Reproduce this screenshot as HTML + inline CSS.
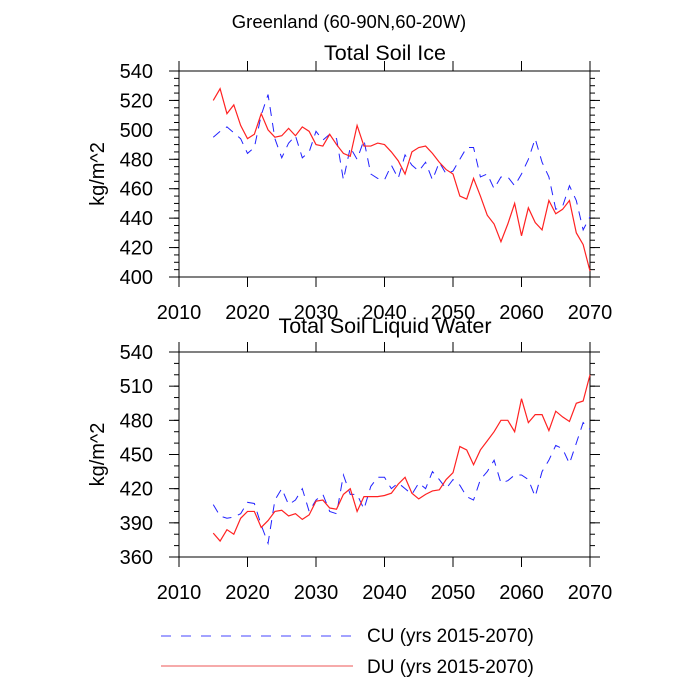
<!DOCTYPE html>
<html><head><meta charset="utf-8"><style>
body{margin:0;background:#fff}
svg{display:block;font-family:"Liberation Sans",sans-serif}
</style></head><body>
<svg id="chart" width="700" height="700" viewBox="0 0 700 700" xmlns="http://www.w3.org/2000/svg">
<text x="349" y="28" font-size="18.5" text-anchor="middle">Greenland (60-90N,60-20W)</text>
<g id="legend">
<line x1="161" y1="636" x2="353" y2="636" stroke="#4444ff" stroke-width="1" stroke-dasharray="10,10"/>
<text x="367" y="642" font-size="19">CU (yrs 2015-2070)</text>
<line x1="161" y1="666" x2="353" y2="666" stroke="#ee5555" stroke-width="1"/>
<text x="367" y="673" font-size="19">DU (yrs 2015-2070)</text>
</g>
</svg>
<script>
const years = [];
for (let y = 2015; y <= 2070; y++) years.push(y);
const iceDU = [520,528,511,517,503,494,497,511,500,495,496,501,496,502,499,490,489,497,490,484,482,503,489,489,491,490,485,479,470,485,488,489,484,478,473,470,455,453,467,455,442,436,424,436,450,428,447,437,432,452,443,446,452,430,422,404];
const iceCU = [495,499,502,498,494,484,488,510,524,494,481,491,496,481,485,499,493,497,494,466,488,480,493,470,467,466,476,467,483,476,472,478,466,478,470,472,480,488,488,468,470,460,468,468,462,470,480,494,478,468,446,448,462,452,432,441];
const liqDU = [381,374,384,380,394,400,400,386,392,400,401,396,398,393,397,409,410,403,402,415,420,400,413,413,413,414,416,424,430,416,411,415,418,419,428,434,457,454,441,454,462,470,480,480,470,499,478,485,485,471,488,483,479,495,497,520];
const liqCU = [406,396,394,395,398,408,407,388,372,410,420,406,410,420,400,410,415,400,398,432,415,415,402,422,430,430,420,425,420,415,425,420,435,428,420,428,423,413,410,428,435,445,425,427,432,432,428,413,435,445,458,455,442,460,478,472];
const xTicks = [2010,2020,2030,2040,2050,2060,2070];
const iceTicks = [400,420,440,460,480,500,520,540];
const liqTicks = [360,390,420,450,480,510,540];

const svg = document.getElementById('chart');
const NS = 'http://www.w3.org/2000/svg';
function mk(tag, attrs, parent) {
  const e = document.createElementNS(NS, tag);
  for (const k in attrs) e.setAttribute(k, attrs[k]);
  (parent || svg).appendChild(e);
  return e;
}
const L = 179, R = 590;
const xs = v => L + (v - 2010) / 60 * (R - L);

function panel(name, title, titleY, top, bot, ymin, ymax, ticks, minorStep, cu, du) {
  const g = mk('g', {});
  
  
  const ys = v => bot - (v - ymin) / (ymax - ymin) * (bot - top);
  const t = mk('text', {x: 385, y: titleY, 'font-size': 21.5, 'text-anchor': 'middle'}, g);
  t.textContent = title;
  
  
  const yt = mk('text', {x: 0, y: 0, 'font-size': 20, 'text-anchor': 'middle', transform: `translate(104,${(top+bot)/2}) rotate(-90)`}, g);
  yt.textContent = 'kg/m^2';
  
  
  for (let v = ymin; v <= ymax; v += minorStep) {
    const y = ys(v);
    mk('line', {x1: L - 5, x2: L, y1: y, y2: y, stroke: '#000'}, g);
    mk('line', {x1: R, x2: R + 5, y1: y, y2: y, stroke: '#000'}, g);
  }
  ticks.forEach(v => {
    const y = ys(v);
    mk('line', {x1: L - 10, x2: L, y1: y, y2: y, stroke: '#000'}, g);
    mk('line', {x1: R, x2: R + 10, y1: y, y2: y, stroke: '#000'}, g);
    const tl = mk('text', {x: L - 26, y: y + 7, 'font-size': 20, 'text-anchor': 'end'}, g);
    tl.textContent = v;
    
    
  });
  xTicks.forEach(v => {
    const x = xs(v);
    mk('line', {x1: x, x2: x, y1: bot, y2: bot + 10, stroke: '#000'}, g);
    mk('line', {x1: x, x2: x, y1: top - 10, y2: top, stroke: '#000'}, g);
    const tl = mk('text', {x: x, y: bot + 42, 'font-size': 20, 'text-anchor': 'middle'}, g);
    tl.textContent = v;
    
    
  });
  mk('rect', {x: L, y: top, width: R - L, height: bot - top, fill: 'none', stroke: '#000'}, g);
  const pc = mk('polyline', {points: years.map((yr, i) => xs(yr) + ',' + ys(cu[i])).join(' '), fill: 'none', stroke: '#2222ff', 'stroke-width': 1, 'stroke-dasharray': '9,7'}, g);
  
  
  const pd = mk('polyline', {points: years.map((yr, i) => xs(yr) + ',' + ys(du[i])).join(' '), fill: 'none', stroke: '#ff2222', 'stroke-width': 1.2}, g);
  
  
}
panel('soil-ice-panel', 'Total Soil Ice', 60, 71, 277, 400, 540, iceTicks, 5, iceCU, iceDU);
panel('soil-liquid-panel', 'Total Soil Liquid Water', 333, 352, 557, 360, 540, liqTicks, 10, liqCU, liqDU);
</script>
</body></html>
